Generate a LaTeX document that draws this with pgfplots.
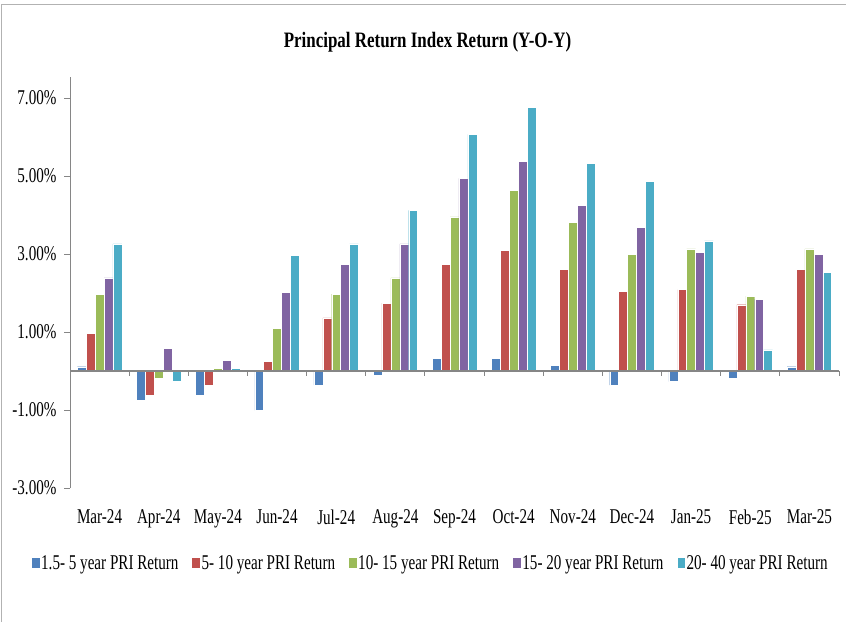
\documentclass[border=0pt]{standalone}
\usepackage{fontspec}
\setmainfont{Liberation Serif}[FakeStretch=0.72]
\newfontfamily\titlefont{Liberation Serif}[FakeStretch=0.77]
\usepackage{pgfplots}
\pgfplotsset{compat=1.18}
\definecolor{sA}{HTML}{4F81BD}
\definecolor{sB}{HTML}{C0504D}
\definecolor{sC}{HTML}{9BBB59}
\definecolor{sD}{HTML}{8064A2}
\definecolor{sE}{HTML}{4BACC6}
\definecolor{axgray}{HTML}{868686}
\begin{document}
\begin{tikzpicture}[x=1pt,y=1pt]
\path[use as bounding box] (0,0) rectangle (846,622);
\draw[gray!60, line width=1.6pt] (1.5,0) -- (1.5,617.5) -- (846,617.5);
\node[font=\titlefont\bfseries\fontsize{22}{26}\selectfont] at (427.5,580) {Principal Return Index Return (Y-O-Y)};
\begin{axis}[
  at={(70pt,134pt)}, anchor=south west,
  scale only axis, width=769pt, height=411pt,
  xmin=-0.5, xmax=12.5, ymin=-3, ymax=7.54,
  ybar=0pt, bar width=8.9pt,
  axis y line*=left, axis x line*=bottom,
  x axis line style={draw=none},
  y axis line style={draw=axgray, line width=1pt},
  xtick={0,...,12}, xtick style={draw=none},
  xticklabels={Mar-24,Apr-24,May-24,Jun-24,Jul-24,Aug-24,Sep-24,Oct-24,Nov-24,Dec-24,Jan-25,Feb-25,Mar-25},
  ytick={-3,-1,1,3,5,7},
  yticklabels={-3.00\%,-1.00\%,1.00\%,3.00\%,5.00\%,7.00\%},
  ytick style={draw=axgray, line width=1pt},
  tick align=outside, major tick length=6pt,
  ticklabel style={font=\fontsize{21}{25}\selectfont, text=black},
  xticklabel style={yshift=-12pt},
  yticklabel style={xshift=-4pt},
  legend columns=5,
  legend style={draw=none, fill=none, at={(0.468,-0.1825)}, anchor=center,
    font=\fontsize{21}{25}\selectfont, inner sep=0pt,
    nodes={inner sep=1pt},
    /tikz/every even column/.append style={column sep=12pt}},
  legend image code/.code={\fill[#1] (0pt,-5.5pt) rectangle (8.7pt,5.5pt);},
  every axis plot/.append style={draw=white, line width=0.4pt},
  clip=false,
]
\addplot[fill=sA] coordinates {(0,0.11) (1,-0.75) (2,-0.62) (3,-1.01) (4,-0.36) (5,-0.10) (6,0.32) (7,0.32) (8,0.15) (9,-0.36) (10,-0.27) (11,-0.19) (12,0.11)};
\addplot[fill=sB] coordinates {(0,0.97) (1,-0.62) (2,-0.36) (3,0.24) (4,1.36) (5,1.74) (6,2.74) (7,3.09) (8,2.61) (9,2.05) (10,2.09) (11,1.70) (12,2.61)};
\addplot[fill=sC] coordinates {(0,1.97) (1,-0.19) (2,0.07) (3,1.10) (4,1.97) (5,2.39) (6,3.95) (7,4.64) (8,3.82) (9,3.00) (10,3.13) (11,1.92) (12,3.13)};
\addplot[fill=sD] coordinates {(0,2.39) (1,0.59) (2,0.28) (3,2.01) (4,2.74) (5,3.26) (6,4.94) (7,5.38) (8,4.25) (9,3.69) (10,3.04) (11,1.84) (12,3.00)};
\addplot[fill=sE] coordinates {(0,3.26) (1,-0.27) (2,0.07) (3,2.96) (4,3.26) (5,4.12) (6,6.07) (7,6.76) (8,5.33) (9,4.86) (10,3.34) (11,0.54) (12,2.53)};
\legend{1.5- 5 year PRI Return,5- 10 year PRI Return,10- 15 year PRI Return,15- 20 year PRI Return,20- 40 year PRI Return}
\draw[axgray, line width=1.3pt] (axis cs:-0.5,0) -- (axis cs:12.5,0);
\pgfplotsinvokeforeach{-0.5,0.5,1.5,2.5,3.5,4.5,5.5,6.5,7.5,8.5,9.5,10.5,11.5,12.5}{
  \draw[axgray, line width=1pt] (axis cs:#1,0) -- ++(0pt,-5pt);
}
\end{axis}
\end{tikzpicture}
\end{document}
